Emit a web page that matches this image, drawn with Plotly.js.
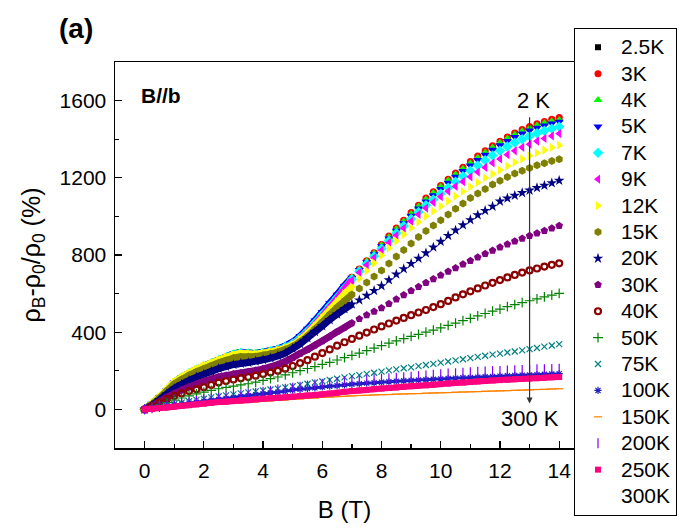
<!DOCTYPE html>
<html>
<head>
<meta charset="utf-8">
<script src="https://cdn.plot.ly/plotly-3.0.1.min.js"></script>
<style>html,body{margin:0;padding:0;background:#fff;}#chart{width:689px;height:529px;}</style>
</head>
<body>
<div id="chart"></div>
<script>
// Magnetic field (T)
const B = [0,0.25,0.5,0.75,1,1.25,1.5,1.75,2,2.25,2.5,2.75,3,3.25,3.5,3.75,4,4.25,4.5,4.75,5,5.25,5.5,5.75,6,6.25,6.5,6.75,7,
  7.25,7.5,7.75,8,8.25,8.5,8.75,9,9.25,9.5,9.75,10,10.25,10.5,10.75,11,11.25,11.5,11.75,12,12.25,12.5,12.75,13,13.25,13.5,13.75,14];

const seriesNames = ["2.5K","3K","4K","5K","7K","9K","12K","15K","20K","30K","40K","50K","75K","100K","150K","200K","250K","300K"];

// MR (%)
const mr_2_5K = [0,27,61,98,136,161,184,203,220,236,252,268,282,290,288,286,294,301,310,324,343,372,409,452,497,542,587,636,682,
  724,766,808,850,892,934,974,1013,1051,1088,1121,1153,1186,1218,1248,1277,1305,1332,1358,1382,1404,1424,1442,1458,1472,1484,1496,1505];
const mr_3K = [0,28,62,100,138,163,186,205,222,238,254,270,284,292,290,288,296,303,312,326,345,375,412,455,500,545,590,640,685,
  728,770,812,855,898,940,980,1020,1058,1095,1128,1160,1193,1225,1255,1285,1313,1340,1366,1390,1412,1432,1450,1466,1480,1492,1503,1512];
const mr_4K = [0,29,63,101,139,165,188,207,224,240,256,272,288,296,294,291,298,304,313,327,346,376,413,456,500,545,590,638,683,
  725,767,808,850,892,934,974,1013,1051,1088,1121,1153,1186,1217,1247,1276,1304,1331,1357,1381,1403,1423,1441,1457,1471,1483,1493,1500];
const mr_5K = [0,29,63,101,139,165,188,207,224,240,256,271,286,294,292,289,297,304,314,329,349,380,418,460,505,550,594,640,682,
  722,763,804,845,886,926,965,1004,1041,1077,1110,1142,1174,1205,1235,1264,1292,1319,1345,1369,1391,1411,1429,1445,1459,1471,1481,1490];
const mr_7K = [0,28,62,100,138,164,187,206,223,239,255,270,285,292,290,287,294,301,310,323,341,370,406,448,492,536,580,628,675,
  715,754,793,833,873,913,950,987,1023,1058,1088,1118,1149,1180,1208,1237,1264,1291,1316,1340,1362,1382,1400,1416,1431,1444,1455,1465];
const mr_9K = [0,28,61,99,137,163,186,205,222,238,253,268,282,289,287,284,291,298,306,318,335,363,398,439,482,527,572,622,670,
  709,748,786,825,864,902,939,975,1010,1043,1073,1102,1130,1156,1180,1205,1230,1254,1277,1298,1320,1340,1358,1374,1390,1404,1417,1429];
const mr_12K = [0,30,65,103,141,166,189,208,225,240,256,270,283,290,288,286,292,298,306,318,334,360,393,432,473,515,557,598,635,
  678,718,758,798,836,872,906,940,971,1001,1027,1052,1079,1105,1129,1153,1176,1199,1220,1240,1261,1280,1298,1314,1329,1344,1357,1369];
const mr_15K = [0,27,59,95,131,155,177,195,211,226,241,254,266,273,273,274,281,288,297,310,326,350,380,415,452,490,528,562,595,
  627,658,688,720,756,792,826,860,893,925,953,980,1010,1040,1067,1095,1119,1142,1165,1185,1204,1222,1237,1251,1265,1276,1287,1296];
const mr_20K = [0,22,50,80,108,130,150,167,182,197,211,222,232,238,243,250,257,266,277,292,315,340,370,402,432,464,493,520,545,
  566,590,615,640,670,700,728,755,782,810,840,870,900,928,955,982,1007,1030,1052,1078,1094,1108,1122,1135,1148,1160,1173,1186];
const mr_30K = [0,18,40,62,82,100,116,130,145,157,168,176,183,189,195,202,210,220,232,248,268,290,310,332,355,378,402,425,448,
  469,489,507,525,548,571,593,615,636,656,676,695,714,733,752,770,788,806,823,840,856,871,886,900,913,926,939,951];
const mr_40K = [0,16,35,53,70,83,95,105,115,127,139,147,155,162,168,175,183,191,200,211,225,240,255,273,292,311,330,348,365,
  382,398,414,430,445,460,474,488,502,515,530,545,562,580,596,612,627,642,656,670,684,697,709,720,730,740,749,757];
const mr_50K = [0,10,22,35,48,59,70,80,90,99,107,114,121,127,133,141,150,159,168,179,190,201,212,222,233,244,256,268,280,
  292,305,318,330,343,355,367,378,389,400,411,422,435,447,460,472,485,497,509,520,532,543,553,563,573,583,592,601];
const mr_75K = [0,5,12,20,28,35,42,49,55,62,68,73,78,83,88,93,98,103,108,114,120,127,133,140,146,153,159,166,172,
  178,184,190,196,202,207,213,218,224,230,236,242,248,254,260,266,272,278,284,289,295,300,306,312,318,325,331,338];
const mr_100K = [0,5,11,17,22,27,32,37,42,47,52,57,62,67,71,76,80,85,89,94,100,104,108,112,116,120,123,127,130,
  133,136,138,141,143,146,148,150,152,154,156,158,160,162,164,165,167,169,170,172,174,176,177,179,180,182,183,185];
const mr_150K = [0,2,5,7,10,13,16,19,22,24,27,29,32,34,37,39,42,44,47,49,52,54,57,59,62,64,66,68,70,
  72,73,75,76,77,79,80,81,82,84,85,86,87,89,90,91,92,94,95,96,97,99,100,101,103,104,106,107];
const mr_200K = [0,6,12,18,25,31,38,44,50,56,61,67,72,77,82,87,92,97,103,108,113,118,124,129,134,138,142,146,149,
  152,154,157,160,162,165,167,170,173,176,180,183,186,188,191,193,195,197,199,200,202,203,205,206,208,209,210,211];
const mr_250K = [0,3,7,10,14,18,22,26,30,34,38,40,43,46,48,52,55,58,60,63,66,69,72,75,78,82,86,91,95,
  98,101,105,108,111,114,117,120,123,125,128,131,134,137,139,142,145,147,150,152,154,156,158,160,162,164,166,168];
const mr_300K = [0,-1,-1,-1,0,0,1,1,2,2,3,3,4,4,5,5,6,6,7,7,8,8,9,9,10,10,11,11,12,
  12,13,13,14,14,15,15,16,16,17,17,18,18,19,19,20,20,21,21,22,22,23,23,24,24,25,25,26];

const seriesValues = [mr_2_5K,mr_3K,mr_4K,mr_5K,mr_7K,mr_9K,mr_12K,mr_15K,mr_20K,mr_30K,mr_40K,mr_50K,mr_75K,mr_100K,mr_150K,mr_200K,mr_250K,mr_300K];

// styles (Origin-like symbol/colour sequence); band = dense low-field part drawn as a thick stroke
const styles = [
  {symbol:"square", color:"#000000", size:6, band:[29,7]},
  {symbol:"circle", color:"#FF0000", size:7, band:[29,7]},
  {symbol:"triangle-up", color:"#00FF00", size:8, band:[29,7]},
  {symbol:"triangle-down", color:"#0000FF", size:8, band:[29,7]},
  {symbol:"diamond", color:"#00FFFF", size:8, band:[29,7]},
  {symbol:"triangle-left", color:"#FF00FF", size:8, band:[29,7]},
  {symbol:"triangle-right", color:"#FFFF00", size:8, band:[29,7]},
  {symbol:"hexagon", color:"#808000", size:8, band:[29,7]},
  {symbol:"star", color:"#000080", size:8, band:[29,7]},
  {symbol:"pentagon", color:"#800080", size:8, band:[29,7]},
  {symbol:"circle-open", color:"#8B0000", size:6, lw:2.2},
  {symbol:"cross-thin-open", color:"#008000", size:7, lw:1.2},
  {symbol:"x-thin-open", color:"#008080", size:6, lw:1.2},
  {symbol:"asterisk-open", color:"#2020C0", size:6, lw:1.2, band:[57,3]},
  {symbol:"line-ew-open", color:"#FF8000", size:6, lw:1.2, band:[57,1]},
  {symbol:"line-ns-open", color:"#8000FF", size:7, lw:1.2},
  {symbol:"square", color:"#FF0080", size:6, band:[57,6]},
  {symbol:"circle", color:"#FFFFFF", size:6}
];

const FONT = "Liberation Sans, Arial, Helvetica, sans-serif";

function markerTrace(i) {
  const s = styles[i];
  const open = s.symbol.indexOf("open") >= 0;
  return {
    type: "scatter", mode: "markers",
    name: '<span style="font-size:21px">' + seriesNames[i] + '</span>',
    x: B, y: seriesValues[i],
    legendrank: i + 1,
    marker: {
      symbol: s.symbol, size: s.size, color: s.color,
      line: open ? {color: s.color, width: s.lw} : {width: 0}
    },
    hoverinfo: "skip"
  };
}
function bandTrace(i) {
  const s = styles[i];
  const n = s.band[0];
  return {
    type: "scatter", mode: "lines", showlegend: false,
    x: B.slice(0, n), y: seriesValues[i].slice(0, n),
    line: {color: s.color, width: s.band[1], shape: "spline"},
    hoverinfo: "skip"
  };
}

const traces = [markerTrace(17)];   // white 300K set sits underneath
for (let i = 0; i < 17; i++) {
  if (styles[i].band) traces.push(bandTrace(i));
  traces.push(markerTrace(i));
}

const layout = {
  width: 689, height: 529,
  margin: {l: 115, r: 112, t: 62, b: 81},
  paper_bgcolor: "#fff", plot_bgcolor: "#fff",
  font: {family: FONT, color: "#000", size: 21},
  showlegend: true,
  legend: {
    x: 1, xanchor: "left", y: 1.088, yanchor: "top",
    bordercolor: "#000", borderwidth: 1, bgcolor: "#fff",
    font: {family: FONT, size: 18, color: "#000"},
    traceorder: "normal", itemwidth: 36, maxheight: 520
  },
  xaxis: {
    range: [-1, 14.5], tickmode: "array", tickvals: [0,2,4,6,8,10,12,14],
    ticks: "inside", ticklen: 7, tickwidth: 1.3, tickcolor: "#000",
    minor: {tickmode: "array", tickvals: [1,3,5,7,9,11,13], ticks: "inside", ticklen: 4, tickwidth: 1.3, tickcolor: "#000"},
    showline: true, linewidth: 1.5, linecolor: "#000", mirror: true,
    showgrid: false, zeroline: false,
    tickfont: {size: 21}, ticklabelstandoff: 3,
    title: {text: "B (T)", font: {size: 24}, standoff: 20}
  },
  yaxis: {
    range: [-200, 1800], tickmode: "array", tickvals: [0,400,800,1200,1600],
    ticks: "inside", ticklen: 7, tickwidth: 1.3, tickcolor: "#000",
    minor: {tickmode: "array", tickvals: [200,600,1000,1400], ticks: "inside", ticklen: 4, tickwidth: 1.3, tickcolor: "#000"},
    showline: true, linewidth: 1.5, linecolor: "#000", mirror: true,
    showgrid: false, zeroline: false,
    tickfont: {size: 21}, ticklabelstandoff: 3,
    title: {text: "ρ<sub>B</sub>-ρ<sub>0</sub>/ρ<sub>0</sub> (%)", font: {size: 25}, standoff: 12}
  },
  annotations: [
    {xref: "paper", yref: "paper", x: -0.084, y: 1.088, text: "<b>(a)</b>", showarrow: false,
     font: {size: 28}, xanchor: "center", yanchor: "middle"},
    {xref: "x", yref: "y", x: 0.54, y: 1626, text: "<b>B//b</b>", showarrow: false,
     font: {size: 21}, xanchor: "center", yanchor: "middle"},
    {xref: "x", yref: "y", x: 13.13, y: 1600, text: "2 K", showarrow: false,
     font: {size: 22}, xanchor: "center", yanchor: "middle"},
    {xref: "x", yref: "y", x: 13.0, y: -47, text: "300 K", showarrow: false,
     font: {size: 22}, xanchor: "center", yanchor: "middle"},
    {xref: "x", yref: "y", x: 13.0, y: 30, axref: "x", ayref: "y", ax: 13.0, ay: 1522,
     text: "", showarrow: true, arrowhead: 2, arrowsize: 1, arrowwidth: 1.2, arrowcolor: "#333"}
  ]
};

Plotly.newPlot("chart", traces, layout, {displayModeBar: false, staticPlot: true});
</script>
</body>
</html>
